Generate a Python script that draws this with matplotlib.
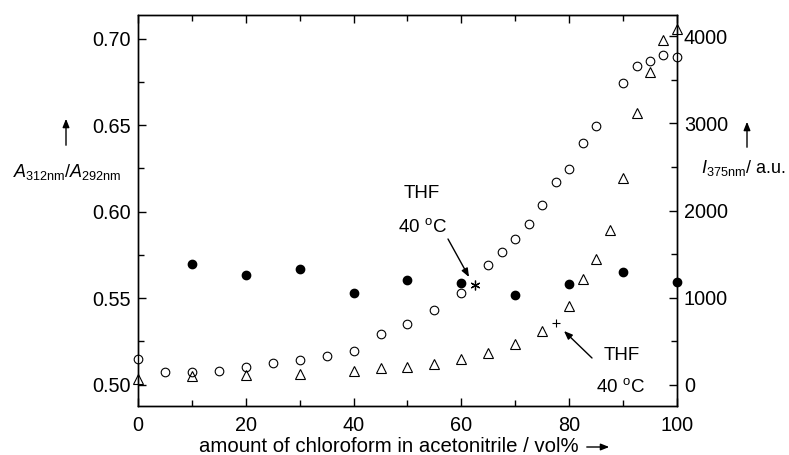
import matplotlib
matplotlib.use("Agg")
import matplotlib.pyplot as plt

plt.rcParams['font.family'] = ['Liberation Sans', 'DejaVu Sans']
plt.rcParams['mathtext.fontset'] = 'custom'
plt.rcParams['mathtext.rm'] = 'Liberation Sans'
plt.rcParams['mathtext.it'] = 'Liberation Sans:italic'

# absorbance ratio A312/A292 (left axis, filled circles)
x_ratio = [10, 20, 30, 40, 50, 60, 70, 80, 90, 100]
ratio = [0.5696, 0.5634, 0.5670, 0.5527, 0.5605, 0.5585, 0.5519, 0.5580, 0.5651, 0.5593]

# fluorescence intensity at 375 nm (right axis, open circles)
x_circ = [0, 5, 10, 15, 20, 25, 30, 35, 40, 45, 50, 55, 60, 65, 67.5, 70, 72.5,
          75, 77.5, 80, 82.5, 85, 90, 92.5, 95, 97.5, 100]
i_circ = [299, 149, 153, 161, 207, 249, 287, 337, 394, 583, 698, 862, 1054, 1379,
          1523, 1678, 1851, 2061, 2322, 2475, 2770, 2969, 3460, 3659, 3713, 3785, 3762]

# fluorescence intensity, second series (right axis, open triangles)
x_tri = [0, 10, 20, 30, 40, 45, 50, 55, 60, 65, 70, 75, 80, 82.5, 85, 87.5, 90,
         92.5, 95, 97.5, 100]
i_tri = [69, 107, 111, 126, 164, 199, 203, 238, 295, 364, 468, 613, 908, 1218,
         1445, 1774, 2376, 3123, 3583, 3954, 4080]

# THF reference points
thf_ratio = (62.5, 0.5576)
thf_int = (77.5, 716)

fig = plt.figure(figsize=(7.89, 4.55), dpi=100)
ax = fig.add_axes([0.1749, 0.1077, 0.858 - 0.1749, 0.967 - 0.1077])
ax2 = ax.twinx()

fs = 14.3

ax.plot(x_ratio, ratio, 'o', color='k', ms=6, clip_on=False, zorder=5)
ax.plot(*thf_ratio, marker=(6, 2, 0), color='k', ms=7, mew=0.9, zorder=5)

ax2.plot(x_circ, i_circ, 'o', mfc='white', mec='k', ms=6.2, mew=0.8, clip_on=False)
ax2.plot(x_tri, i_tri, '^', mfc='none', mec='k', ms=6.5, mew=0.8, clip_on=False)
ax2.plot(*thf_int, '+', color='k', ms=6, mew=0.8)

ax.set_xlim(0, 100)
ax.set_ylim(0.4876, 0.7136)
ax2.set_ylim(-241, 4241)

ax.set_xticks([0, 20, 40, 60, 80, 100])
ax.set_xticks([10, 30, 50, 70, 90], minor=True)
ax.set_yticks([0.50, 0.55, 0.60, 0.65, 0.70])
ax.set_yticks([0.525, 0.575, 0.625, 0.675], minor=True)
ax.set_yticklabels(['0.50', '0.55', '0.60', '0.65', '0.70'])
ax2.set_yticks([0, 1000, 2000, 3000, 4000])
ax2.set_yticks([500, 1500, 2500, 3500], minor=True)

ax.tick_params(which='both', direction='in', top=True, right=False, labelsize=fs, width=1)
ax.tick_params(axis='x', pad=7)
ax.tick_params(axis='y', pad=5)
ax.tick_params(which='major', length=6)
ax.tick_params(which='minor', length=4)
ax2.tick_params(which='both', direction='in', labelsize=fs, pad=5, width=1)
ax2.tick_params(which='major', length=6)
ax2.tick_params(which='minor', length=4)
for a in (ax, ax2):
    for s in a.spines.values():
        s.set_linewidth(1)

head = '-|>,head_length=5,head_width=2'

# axis labels with arrows
fig.text(388.5 / 789, 1 - 447 / 455, 'amount of chloroform in acetonitrile / vol%',
         fontsize=14.7, ha='center', va='center')
fig.add_artist(matplotlib.patches.FancyArrowPatch(
    (584 / 789, 1 - 447 / 455), (612 / 789, 1 - 447 / 455), transform=fig.transFigure,
    arrowstyle=head, color='k', lw=1, mutation_scale=1))

fig.text(67 / 789, 1 - 172 / 455, r'$A_{\rm 312nm}/A_{\rm 292nm}$',
         fontsize=13, ha='center', va='center')
fig.add_artist(matplotlib.patches.FancyArrowPatch(
    (66 / 789, 1 - 148 / 455), (66 / 789, 1 - 116 / 455), transform=fig.transFigure,
    arrowstyle=head, color='k', lw=1, mutation_scale=1))

fig.text(743 / 789, 1 - 168 / 455, r'$I_{\rm 375nm}$/ a.u.',
         fontsize=13, ha='center', va='center')
fig.add_artist(matplotlib.patches.FancyArrowPatch(
    (747 / 789, 1 - 150 / 455), (747 / 789, 1 - 119 / 455), transform=fig.transFigure,
    arrowstyle=head, color='k', lw=1, mutation_scale=1))

# THF annotations
arrow = dict(arrowstyle=head, color='k', lw=1, mutation_scale=1, shrinkA=0, shrinkB=0)
fig.text(422 / 789, 1 - 194 / 455, 'THF', fontsize=13.5, ha='center', va='center')
fig.text(422 / 789, 1 - 227 / 455, r'40 $^{\rm o}$C', fontsize=13.5, ha='center', va='center')
fig.add_artist(matplotlib.patches.FancyArrowPatch(
    (448 / 789, 1 - 239 / 455), (469 / 789, 1 - 277 / 455), transform=fig.transFigure, **arrow))

fig.text(622 / 789, 1 - 355 / 455, 'THF', fontsize=13.5, ha='center', va='center')
fig.text(620 / 789, 1 - 387 / 455, r'40 $^{\rm o}$C', fontsize=13.5, ha='center', va='center')
fig.add_artist(matplotlib.patches.FancyArrowPatch(
    (592 / 789, 1 - 358 / 455), (564 / 789, 1 - 331 / 455), transform=fig.transFigure, **arrow))

fig.savefig('out.png', dpi=100)
